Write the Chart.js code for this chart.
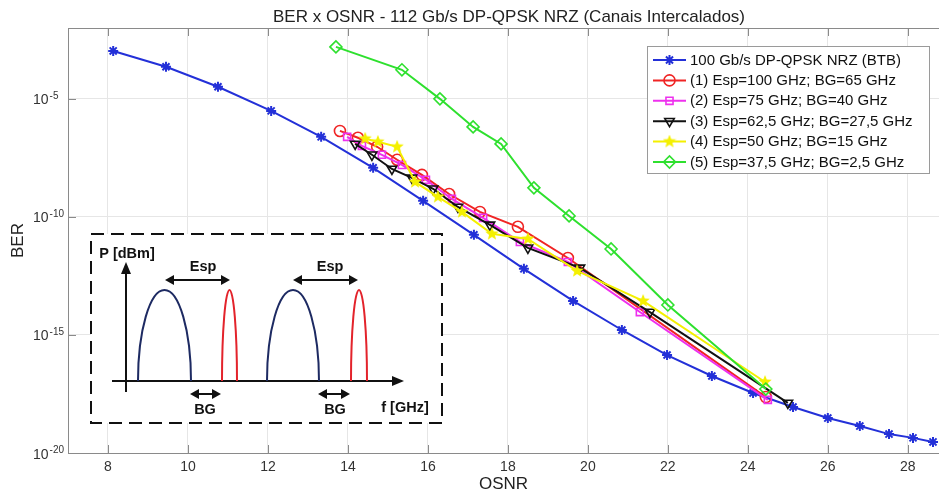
<!DOCTYPE html>
<html>
<head>
<meta charset="utf-8">
<script src="https://cdn.jsdelivr.net/npm/chart.js@4.4.0/dist/chart.umd.min.js"></script>
<style>body{margin:0;background:#fff}</style>
</head>
<body>
<canvas id="myChart" width="939" height="497"></canvas>
<script>
// values (OSNR in dB, BER)
var btbX = [8.13, 9.45, 10.75, 12.08, 13.33, 14.63, 15.88, 17.15, 18.4, 19.63, 20.85, 21.98, 23.1, 24.13, 25.13, 26.0, 26.8, 27.53, 28.13, 28.63];
var btbBer = [1.07e-3, 2.29e-4, 3.24e-5, 3.09e-6, 2.45e-7, 1.2e-8, 4.79e-10, 1.74e-11, 6.31e-13, 2.75e-14, 1.62e-15, 1.41e-16, 1.82e-17, 3.47e-18, 8.91e-19, 3.02e-19, 1.38e-19, 6.31e-20, 4.37e-20, 2.95e-20];

var esp100X = [13.8, 14.25, 14.73, 15.23, 15.85, 16.53, 17.3, 18.25, 19.5, 24.45];
var esp100Ber = [4.37e-7, 2.24e-7, 9.33e-8, 2.63e-8, 6.03e-9, 9.33e-10, 1.62e-10, 3.8e-11, 1.82e-12, 2.34e-18];

var esp75X = [13.98, 14.35, 14.85, 15.35, 15.95, 16.6, 17.38, 18.3, 19.5, 21.3, 24.5];
var esp75Ber = [2.45e-7, 1.02e-7, 4.27e-8, 1.58e-8, 3.72e-9, 5.75e-10, 9.12e-11, 8.71e-12, 1.23e-12, 9.33e-15, 1.78e-18];

var esp62X = [14.18, 14.6, 15.1, 15.6, 16.13, 16.75, 17.55, 18.5, 19.8, 21.55, 25.0];
var esp62Ber = [1.23e-7, 4.27e-8, 1.07e-8, 4.47e-9, 1.55e-9, 2.63e-10, 4.57e-11, 4.9e-12, 6.92e-13, 9.33e-15, 1.32e-18];

var esp50X = [14.43, 14.75, 15.23, 15.68, 16.25, 16.85, 17.6, 18.5, 19.73, 21.38, 24.43];
var esp50Ber = [2.04e-7, 1.51e-7, 9.33e-8, 3.02e-9, 7.08e-10, 1.62e-10, 1.91e-11, 1.17e-11, 5.13e-13, 2.75e-14, 1.02e-17];

var esp37X = [13.7, 15.35, 16.3, 17.13, 17.83, 18.65, 19.53, 20.58, 22.0, 24.45];
var esp37Ber = [1.58e-3, 1.7e-4, 1.0e-5, 6.46e-7, 1.23e-7, 1.7e-9, 1.1e-10, 4.37e-12, 1.86e-14, 5.13e-18];

var seriesLabels = [
  '100 Gb/s DP-QPSK NRZ (BTB)',
  '(1) Esp=100 GHz; BG=65 GHz',
  '(2) Esp=75 GHz; BG=40 GHz',
  '(3) Esp=62,5 GHz; BG=27,5 GHz',
  '(4) Esp=50 GHz; BG=15 GHz',
  '(5) Esp=37,5 GHz; BG=2,5 GHz'
];
var xTicks = [8, 10, 12, 14, 16, 18, 20, 22, 24, 26, 28];
var yTicks = [1e-20, 1e-15, 1e-10, 1e-5];
var yTickExp = ['-20', '-15', '-10', '-5'];

var FONT = '"Liberation Sans", Arial, sans-serif';

function pts(xs, ys) {
  return xs.map(function (x, i) { return {x: x, y: ys[i]}; });
}

// filled five point star for series (4)
function starImg(color) {
  var c = document.createElement('canvas');
  c.width = c.height = 14;
  var g = c.getContext('2d');
  g.beginPath();
  for (var i = 0; i < 10; i++) {
    var r = i % 2 ? 3 : 7;
    var a = -Math.PI / 2 + i * Math.PI / 5;
    g.lineTo(7 + r * Math.cos(a), 7 + r * Math.sin(a));
  }
  g.closePath();
  g.fillStyle = color;
  g.fill();
  return c;
}

function arrowHead(ctx, x, y, dir, len, half) {
  ctx.beginPath();
  if (dir === 'r') { ctx.moveTo(x, y); ctx.lineTo(x - len, y - half); ctx.lineTo(x - len, y + half); }
  if (dir === 'l') { ctx.moveTo(x, y); ctx.lineTo(x + len, y - half); ctx.lineTo(x + len, y + half); }
  if (dir === 'u') { ctx.moveTo(x, y); ctx.lineTo(x - half, y + len); ctx.lineTo(x + half, y + len); }
  ctx.closePath();
  ctx.fill();
}

function dblArrow(ctx, x1, x2, y) {
  ctx.beginPath();
  ctx.moveTo(x1 + 6, y); ctx.lineTo(x2 - 6, y);
  ctx.stroke();
  arrowHead(ctx, x1, y, 'l', 9, 5);
  arrowHead(ctx, x2, y, 'r', 9, 5);
}

var decor = {
  id: 'decor',
  afterDraw: function (chart) {
    var ctx = chart.ctx;
    var a = chart.chartArea;
    var xs = chart.scales.x, ys = chart.scales.y;
    ctx.save();

    // frame top + inner ticks
    ctx.strokeStyle = '#8a8a8a';
    ctx.lineWidth = 1;
    ctx.beginPath();
    ctx.moveTo(a.left, a.top + 0.5); ctx.lineTo(a.right, a.top + 0.5);
    xTicks.forEach(function (t) {
      var px = Math.round(xs.getPixelForValue(t)) + 0.5;
      ctx.moveTo(px, a.bottom); ctx.lineTo(px, a.bottom - 8);
      ctx.moveTo(px, a.top); ctx.lineTo(px, a.top + 8);
    });
    yTicks.forEach(function (t) {
      var py = Math.round(ys.getPixelForValue(t)) + 0.5;
      ctx.moveTo(a.left, py); ctx.lineTo(a.left + 8, py);
    });
    ctx.stroke();

    // y tick labels with superscripts
    ctx.fillStyle = '#333';
    ctx.textBaseline = 'alphabetic';
    ctx.textAlign = 'left';
    yTicks.forEach(function (t, i) {
      var py = ys.getPixelForValue(t);
      ctx.font = '14px ' + FONT;
      var w = ctx.measureText('10').width;
      ctx.fillText('10', 33, py + 5.5);
      ctx.font = '10px ' + FONT;
      ctx.fillText(yTickExp[i], 34 + w, py);
    });

    // title
    ctx.fillStyle = '#222';
    ctx.font = '17px ' + FONT;
    ctx.textAlign = 'center';
    ctx.textBaseline = 'middle';
    ctx.fillText('BER x OSNR - 112 Gb/s DP-QPSK NRZ (Canais Intercalados)', 509, 17);

    // legend
    var lx = 647, ly = 46, lw = 282, lh = 127;
    ctx.fillStyle = '#fff';
    ctx.fillRect(lx, ly, lw, lh);
    ctx.strokeStyle = '#9a9a9a';
    ctx.lineWidth = 1;
    ctx.strokeRect(lx + 0.5, ly + 0.5, lw, lh);
    chart.data.datasets.forEach(function (ds, i) {
      var y = 60 + i * 20.4;
      ctx.strokeStyle = ds.borderColor;
      ctx.lineWidth = 2;
      ctx.beginPath();
      ctx.moveTo(653, y); ctx.lineTo(686, y);
      ctx.stroke();
      ctx.fillStyle = 'rgba(0,0,0,0)';
      ctx.lineWidth = ds.pointBorderWidth;
      Chart.helpers.drawPoint(ctx, {
        pointStyle: ds.pointStyle, radius: ds.pointRadius, borderWidth: ds.pointBorderWidth,
        rotation: ds.pointRotation || 0
      }, 669.5, y);
      ctx.fillStyle = '#111';
      ctx.font = '15px ' + FONT;
      ctx.textAlign = 'left';
      ctx.textBaseline = 'middle';
      ctx.fillText(ds.label, 690, y + 0.5);
    });

    // inset sketch of the channel grid
    ctx.fillStyle = '#fff';
    ctx.fillRect(91, 234, 351, 189);
    ctx.strokeStyle = '#111';
    ctx.lineWidth = 2;
    ctx.setLineDash([13, 7]);
    ctx.strokeRect(91, 234, 351, 189);
    ctx.setLineDash([]);

    ctx.fillStyle = '#111';
    ctx.beginPath();
    ctx.moveTo(126, 392); ctx.lineTo(126, 272);
    ctx.moveTo(112, 381); ctx.lineTo(394, 381);
    ctx.stroke();
    arrowHead(ctx, 126, 262, 'u', 12, 5);
    arrowHead(ctx, 404, 381, 'r', 12, 5);

    function arch(cx, rx, color) {
      ctx.strokeStyle = color;
      ctx.beginPath();
      ctx.ellipse(cx, 381, rx, 91, 0, Math.PI, 2 * Math.PI);
      ctx.stroke();
    }
    arch(164.5, 26.5, '#1d2a62');
    arch(229.5, 7.5, '#e3232b');
    arch(293, 26, '#1d2a62');
    arch(359, 8, '#e3232b');

    ctx.strokeStyle = '#111';
    ctx.fillStyle = '#111';
    ctx.lineWidth = 2;
    dblArrow(ctx, 165, 230, 280);
    dblArrow(ctx, 293, 358, 280);
    dblArrow(ctx, 190, 221, 394);
    dblArrow(ctx, 318, 350, 394);

    ctx.font = 'bold 14.5px ' + FONT;
    ctx.textAlign = 'center';
    ctx.textBaseline = 'middle';
    ctx.fillText('P [dBm]', 127, 254);
    ctx.fillText('Esp', 203, 267);
    ctx.fillText('Esp', 330, 267);
    ctx.fillText('BG', 205, 410);
    ctx.fillText('BG', 335, 410);
    ctx.fillText('f [GHz]', 405, 408);

    ctx.restore();
  }
};

function series(label, data, color, style, order, extra) {
  var ds = {
    label: label,
    data: data,
    borderColor: color,
    backgroundColor: 'rgba(0,0,0,0)',
    borderWidth: 2,
    pointStyle: style,
    pointRadius: 5,
    pointBorderWidth: 1.6,
    pointBorderColor: color,
    pointBackgroundColor: 'rgba(0,0,0,0)',
    tension: 0,
    order: order
  };
  for (var k in extra) ds[k] = extra[k];
  return ds;
}

var ctx = document.getElementById('myChart').getContext('2d');
var myChart = new Chart(ctx, {
  type: 'line',
  data: {
    datasets: [
      series(seriesLabels[0], pts(btbX, btbBer), '#2330d8', 'star', 5, {pointRadius: 5, pointBorderWidth: 2}),
      series(seriesLabels[1], pts(esp100X, esp100Ber), '#f02424', 'circle', 4, {pointRadius: 5.5}),
      series(seriesLabels[2], pts(esp75X, esp75Ber), '#ee30ee', 'rect', 3, {pointRadius: 5}),
      series(seriesLabels[3], pts(esp62X, esp62Ber), '#111111', 'triangle', 2, {pointRotation: 180, pointRadius: 5.5}),
      series(seriesLabels[4], pts(esp50X, esp50Ber), '#f4f000', starImg('#f4f000'), 1, {}),
      series(seriesLabels[5], pts(esp37X, esp37Ber), '#2ee02e', 'rectRot', 0, {pointRadius: 6})
    ]
  },
  options: {
    responsive: false,
    animation: false,
    layout: {autoPadding: false, padding: {top: 28, left: 0, right: 0, bottom: 0}},
    plugins: {
      legend: {display: false},
      title: {display: false},
      tooltip: {enabled: false}
    },
    scales: {
      x: {
        type: 'linear',
        min: 7,
        max: 28.78,
        afterBuildTicks: function (s) { s.ticks = xTicks.map(function (v) { return {value: v}; }); },
        afterFit: function (s) { s.height = 44; },
        grid: {color: '#e6e6e6', drawTicks: false},
        border: {display: true, color: '#8a8a8a'},
        ticks: {color: '#333', font: {family: FONT, size: 14}, padding: 6, maxRotation: 0},
        title: {display: true, text: 'OSNR', color: '#222', font: {family: FONT, size: 17}, padding: {top: 0, bottom: 2}}
      },
      y: {
        type: 'logarithmic',
        min: 1e-20,
        max: 1e-2,
        afterBuildTicks: function (s) { s.ticks = yTicks.map(function (v) { return {value: v}; }); },
        afterFit: function (s) { s.width = 68; },
        grid: {color: '#e6e6e6', drawTicks: false},
        border: {display: true, color: '#8a8a8a'},
        ticks: {display: false},
        title: {display: true, text: 'BER', color: '#222', font: {family: FONT, size: 17}, padding: {top: 8, bottom: 0}}
      }
    }
  },
  plugins: [decor]
});
</script>
</body>
</html>
